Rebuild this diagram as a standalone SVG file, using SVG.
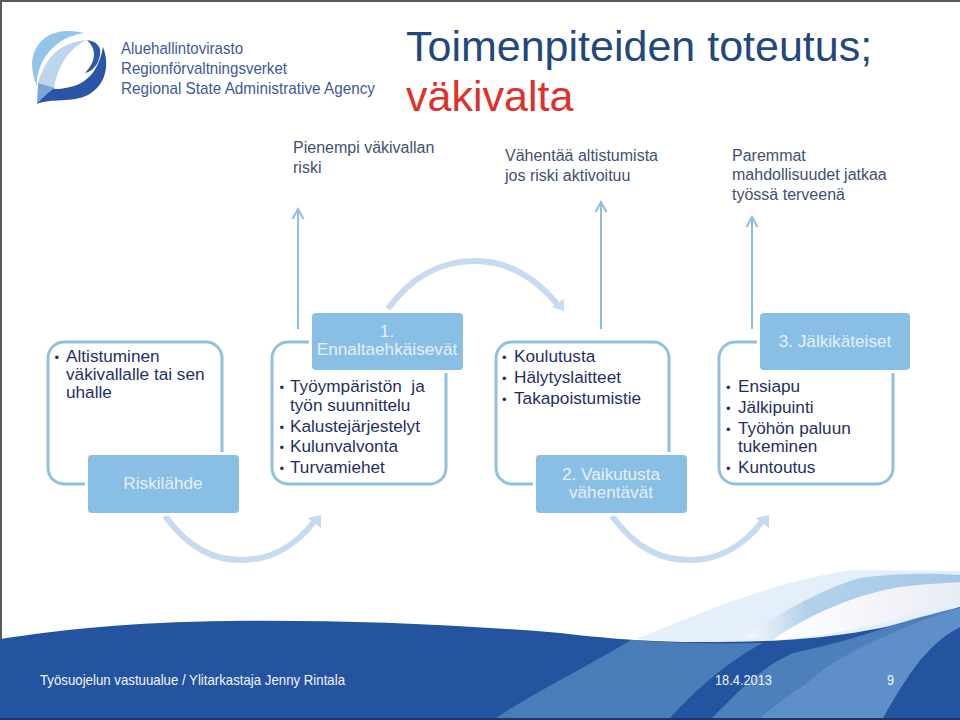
<svg xmlns="http://www.w3.org/2000/svg" width="960" height="720" viewBox="0 0 960 720">
<style>
text{font-family:"Liberation Sans",Arial,sans-serif}
.title{font-size:43px;fill:#1f497d}
.note{font-size:16px;fill:#3f5170}
.body{font-size:17.2px;fill:#1f2f63;white-space:pre}
.dot{font-size:13px;fill:#1f2f63}
.lab{font-size:17.2px;fill:#e4f0f9;text-anchor:middle}
.foot{font-size:14.5px;fill:#f2f6fb}
.logo{font-size:17px;fill:#3c5a96}
.box{fill:none;stroke:#8fc0e0;stroke-width:3}
.tag{fill:#89bfe5;stroke:#fff;stroke-width:6;paint-order:stroke}
.up{fill:none;stroke:#8dbde0;stroke-width:2}
.curve{fill:none;stroke:#c6dbf0;stroke-width:6}
.head{fill:#c6dbf0}
</style>
<defs>
<linearGradient id="mid" x1="740" x2="960" y1="0" y2="0" gradientUnits="userSpaceOnUse"><stop offset="0" stop-color="#fff"/><stop offset="0.3" stop-color="#b4d1ea"/><stop offset="1" stop-color="#a3c8e6"/></linearGradient>
<linearGradient id="sheen" x1="770" x2="960" y1="0" y2="0" gradientUnits="userSpaceOnUse"><stop offset="0" stop-color="#fff"/><stop offset="0.6" stop-color="#f3f4f9"/><stop offset="1" stop-color="#e8ecf4"/></linearGradient>
</defs>
<rect width="960" height="720" fill="#fff"/>
<g id="frame"><path d="M1,720V1H960" fill="none" stroke="#5a5a5a" stroke-width="2"/></g>
<g id="footer-art">
<path d="M637,639C700,612 775,582 850,570L960,571V608C860,640 780,642 700,642Z" fill="#e4eff9"/>
<path d="M745,637C780,612 820,590 860,578C895,573 930,573 960,575V590C900,600 830,625 775,640Z" fill="url(#mid)"/>
<path d="M773,640C800,620 850,595 900,587C925,584 945,583 960,582V600C900,615 860,635 773,640Z" fill="url(#sheen)"/>
<path d="M0,639C60,630 130,622 230,621C340,620 450,624 560,633C620,640 660,642 700,642C780,642 860,640 960,607V718H0Z" fill="#24539f"/>
<path d="M631,640C590,665 530,695 496,718H670C695,690 730,660 763,643C720,644 670,643 631,640Z" fill="#4a7cb8"/>
<path d="M712,718C740,690 760,668 793,653C830,645 860,637 893,625C920,617 940,612 960,607V627C935,640 915,660 883,718Z" fill="#4d7fbb"/>
<path d="M760,718C775,705 790,695 807,683C820,672 830,664 843,657C860,648 875,640 893,633C915,623 940,613 960,608V627C935,640 915,660 883,718Z" fill="#5f8fc8"/>
<rect y="718" width="960" height="2" fill="#1b3768"/>
</g>
<g id="logo">
<path d="M84,33C66,28 36,30 32,62C32,70 33,78 37,86C36,66 50,38 84,33Z" fill="#93c4ea"/>
<path d="M87,40C62,42 46,55 38,83L54,89C56,75 64,50 87,40Z" fill="#bdd6ee"/>
<path d="M38,83L55,88L50,97L37,104Z" fill="#7ba7d8"/>
<path d="M37,104C42,98 48,93 53,89C75,89 97,82 103,47C110,65 106,85 88,95C72,103 50,98 37,104Z" fill="#2a55a5"/>
<path d="M87,40C100,42 103,50 98,62C95,68 90,72 85,73C95,63 98,50 87,40Z" fill="#2f5aa8"/>
<text class="logo" x="121" y="54" textLength="122" lengthAdjust="spacingAndGlyphs">Aluehallintovirasto</text>
<text class="logo" x="121" y="74" textLength="166" lengthAdjust="spacingAndGlyphs">Regionförvaltningsverket</text>
<text class="logo" x="121" y="94" textLength="254" lengthAdjust="spacingAndGlyphs">Regional State Administrative Agency</text>
</g>
<g id="title">
<text class="title" x="406" y="61">Toimenpiteiden toteutus;</text>
<text class="title" x="406" y="111" style="fill:#e0302a">väkivalta</text>
</g>
<g id="outcome-1"><text class="note" x="293" y="153">Pienempi väkivallan</text><text class="note" x="293" y="173">riski</text></g>
<g id="outcome-2"><text class="note" x="505" y="161">Vähentää altistumista</text><text class="note" x="505" y="181">jos riski aktivoituu</text></g>
<g id="outcome-3"><text class="note" x="732" y="161">Paremmat</text><text class="note" x="732" y="180">mahdollisuudet jatkaa</text><text class="note" x="732" y="200">työssä terveenä</text></g>
<g id="connectors">
<path class="up" d="M298,329V210M292.500,219L298,209L303.500,219"/>
<path class="up" d="M601,329V203M595.500,212L601,202L606.500,212"/>
<path class="up" d="M752,329V218M746.500,227L752,217L757.500,227"/>
<path class="curve" d="M165,516C190,550 215,560 242,560C270,560 295,546 314,522"/>
<path class="head" d="M321,515L321,528L307,518Z"/>
<path class="curve" d="M388,309C410,278 440,261 475,261C508,261 535,277 558,305"/>
<path class="head" d="M564,311L564,299L552,307Z"/>
<path class="curve" d="M612,516C637,550 662,560 690,560C718,560 743,546 762,522"/>
<path class="head" d="M769,515L769,528L755,518Z"/>
</g>
<g id="node-riskilahde">
<rect class="box" x="48" y="342" width="174" height="142" rx="16"/>
<rect class="tag" x="88" y="455" width="151" height="58" rx="4"/>
<text class="dot" x="54.500" y="361.500">•</text>
<text class="body" x="66" y="362">Altistuminen</text><text class="body" x="66" y="380">väkivallalle tai sen</text><text class="body" x="66" y="398">uhalle</text>
<text class="lab" x="163" y="489">Riskilähde</text>
</g>
<g id="node-ennaltaehkaisevat">
<rect class="box" x="272" y="342" width="174" height="142" rx="16"/>
<rect class="tag" x="312" y="313" width="151" height="57" rx="4"/>
<text class="lab" x="387" y="337">1.</text><text class="lab" x="387" y="355">Ennaltaehkäisevät</text>
<text class="dot" x="279.500" y="391.500">•</text><text class="dot" x="279.500" y="431.500">•</text><text class="dot" x="279.500" y="451.500">•</text><text class="dot" x="279.500" y="472.500">•</text>
<text class="body" x="290" y="392">Työympäristön  ja</text><text class="body" x="290" y="410.500">työn suunnittelu</text><text class="body" x="290" y="432">Kalustejärjestelyt</text><text class="body" x="290" y="452">Kulunvalvonta</text><text class="body" x="290" y="473">Turvamiehet</text>
</g>
<g id="node-vaikutusta">
<rect class="box" x="496" y="342" width="173" height="142" rx="16"/>
<rect class="tag" x="536" y="455" width="151" height="58" rx="4"/>
<text class="dot" x="502" y="361.500">•</text><text class="dot" x="502" y="382.500">•</text><text class="dot" x="502" y="403.500">•</text>
<text class="body" x="514" y="362">Koulutusta</text><text class="body" x="514" y="383">Hälytyslaitteet</text><text class="body" x="514" y="404">Takapoistumistie</text>
<text class="lab" x="611" y="480">2. Vaikutusta</text><text class="lab" x="611" y="498">vähentävät</text>
</g>
<g id="node-jalkikateiset">
<rect class="box" x="719" y="342" width="174" height="142" rx="16"/>
<rect class="tag" x="760" y="313" width="150" height="57" rx="4"/>
<text class="lab" x="835" y="347">3. Jälkikäteiset</text>
<text class="dot" x="726" y="391.500">•</text><text class="dot" x="726" y="412.500">•</text><text class="dot" x="726" y="433.500">•</text><text class="dot" x="726" y="472.500">•</text>
<text class="body" x="738" y="392">Ensiapu</text><text class="body" x="738" y="413">Jälkipuinti</text><text class="body" x="738" y="434">Työhön paluun</text><text class="body" x="738" y="452">tukeminen</text><text class="body" x="738" y="473">Kuntoutus</text>
</g>
<g id="footer-text">
<text class="foot" x="40" y="685" textLength="305" lengthAdjust="spacingAndGlyphs">Työsuojelun vastuualue / Ylitarkastaja Jenny Rintala</text>
<text class="foot" x="715" y="685" textLength="57" lengthAdjust="spacingAndGlyphs">18.4.2013</text>
<text class="foot" x="887" y="685" textLength="7" lengthAdjust="spacingAndGlyphs">9</text>
</g>
</svg>
